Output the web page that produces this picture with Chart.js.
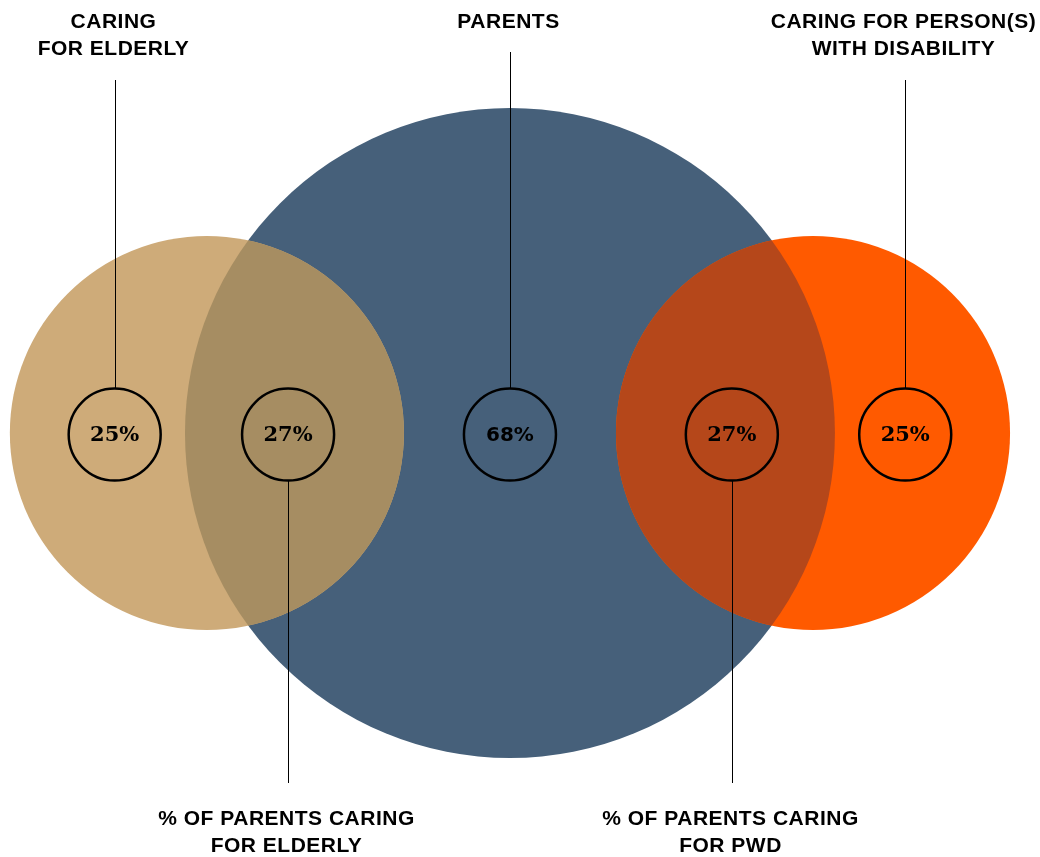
<!DOCTYPE html>
<html>
<head>
<meta charset="utf-8">
<title>Parents and caregiving</title>
<script src="https://cdn.jsdelivr.net/npm/chart.js@4.4.1/dist/chart.umd.min.js"></script>
<style>
  html, body { margin: 0; padding: 0; background: #ffffff; }
  #wrap { width: 1040px; height: 857px; }
</style>
</head>
<body>
<div id="wrap"><canvas id="venn" width="1040" height="857"></canvas></div>
<script>
// Groups (circle area ~ share of respondents)
const groupNames = ['PARENTS', 'CARING FOR ELDERLY', 'CARING FOR PERSON(S) WITH DISABILITY'];
const groupShare = [68, 25, 25];
const groupX = [0, -7.69, 7.69];
const groupColors = ['#46607A', '#CEAB79', '#FF5A00'];

// Overlaps with the parents circle
const overlapGroup = [1, 2];
const overlapColors = ['#A68D62', '#B5471A'];

// Value markers, left to right
const markerValues = [25, 27, 68, 27, 25];
const markerX = [-10.03, -5.63, 0, 5.63, 10.03];
const markerFonts = ['bold 21px "DejaVu Serif"', 'bold 21px "DejaVu Serif"', 'bold 20px "DejaVu Sans"', 'bold 21px "DejaVu Serif"', 'bold 21px "DejaVu Serif"'];

// Callouts: which marker, above/below, text lines
const calloutMarker = [0, 2, 4, 1, 3];
const calloutSide = ['top', 'top', 'top', 'bottom', 'bottom'];
const calloutLines = [
    ['CARING', 'FOR ELDERLY'],
    ['PARENTS'],
    ['CARING FOR PERSON(S)', 'WITH DISABILITY'],
    ['% OF PARENTS CARING', 'FOR ELDERLY'],
    ['% OF PARENTS CARING', 'FOR PWD']
];

const MARKER_R = 46;

// pixel radius for a share, radius in axis units = sqrt(share)
function radiusPx(chart, value) {
    const x = chart.scales.x;
    if (!x) return 0;
    const r = Math.abs(x.getPixelForValue(Math.sqrt(value)) - x.getPixelForValue(0));
    return isFinite(r) ? r : 0;
}

// Paint the lens where a side circle meets the parents circle
const lensPlugin = {
    id: 'lens',
    afterDatasetDraw(chart, args) {
        if (args.index !== 0) return;
        const ctx = chart.ctx;
        const xs = chart.scales.x, ys = chart.scales.y;
        const cy = ys.getPixelForValue(0);
        const bigX = xs.getPixelForValue(groupX[0]);
        const bigR = radiusPx(chart, groupShare[0]);
        overlapGroup.forEach((g, i) => {
            ctx.save();
            ctx.beginPath();
            ctx.arc(bigX, cy, bigR, 0, Math.PI * 2);
            ctx.clip();
            ctx.beginPath();
            ctx.arc(xs.getPixelForValue(groupX[g]), cy, radiusPx(chart, groupShare[g]), 0, Math.PI * 2);
            ctx.fillStyle = overlapColors[i];
            ctx.fill();
            ctx.restore();
        });
    }
};

// Leader lines, callout text and marker values
const calloutPlugin = {
    id: 'callouts',
    afterDatasetsDraw(chart) {
        const ctx = chart.ctx;
        const xs = chart.scales.x, ys = chart.scales.y;
        const cy = ys.getPixelForValue(-0.04);

        ctx.save();
        ctx.strokeStyle = '#000';
        ctx.lineWidth = 1;
        calloutLines.forEach((lines, i) => {
            const mx = Math.round(xs.getPixelForValue(markerX[calloutMarker[i]])) + 0.5;
            ctx.beginPath();
            if (calloutSide[i] === 'top') {
                const top = lines.length > 1 ? 80 : 52;
                ctx.moveTo(mx, top);
                ctx.lineTo(mx, cy - MARKER_R);
            } else {
                ctx.moveTo(mx, cy + MARKER_R);
                ctx.lineTo(mx, 783);
            }
            ctx.stroke();

            ctx.fillStyle = '#000';
            ctx.font = 'bold 21px "Liberation Sans", Arial, sans-serif';
            ctx.letterSpacing = '0.5px';
            ctx.textAlign = 'center';
            ctx.textBaseline = 'alphabetic';
            const base = calloutSide[i] === 'top' ? 28 : 825;
            lines.forEach((t, j) => ctx.fillText(t, mx - 2, base + j * 27));
        });

        ctx.letterSpacing = '0px';
        ctx.textBaseline = 'middle';
        markerValues.forEach((v, i) => {
            ctx.font = markerFonts[i];
            ctx.fillStyle = '#000';
            ctx.fillText(v + '%', xs.getPixelForValue(markerX[i]), cy + 1);
        });
        ctx.restore();
    }
};

const chart = new Chart(document.getElementById('venn'), {
    type: 'bubble',
    data: {
        datasets: [
            {
                label: 'groups',
                order: 2,
                clip: false,
                data: groupShare.map((v, i) => ({ x: groupX[i], y: 0, r: 0 })),
                backgroundColor: groupColors,
                borderWidth: 0
            },
            {
                label: 'markers',
                order: 1,
                clip: false,
                data: markerValues.map((v, i) => ({ x: markerX[i], y: -0.04 })),
                radius: MARKER_R,
                backgroundColor: 'rgba(0,0,0,0)',
                borderColor: '#000',
                borderWidth: 2.5
            }
        ]
    },
    options: {
        responsive: false,
        animation: false,
        events: [],
        layout: { padding: 0, autoPadding: false },
        scales: {
            x: { type: 'linear', display: false, min: -12.94, max: 13.45 },
            y: { type: 'linear', display: false, min: -10.76, max: 10.99 }
        },
        plugins: {
            legend: { display: false },
            tooltip: { enabled: false }
        }
    },
    plugins: [lensPlugin, calloutPlugin]
});

// bubble radius is in pixels: size the groups once the scales are laid out
chart.data.datasets[0].data.forEach((d, i) => { d.r = radiusPx(chart, groupShare[i]); });
chart.update();
</script>
</body>
</html>
